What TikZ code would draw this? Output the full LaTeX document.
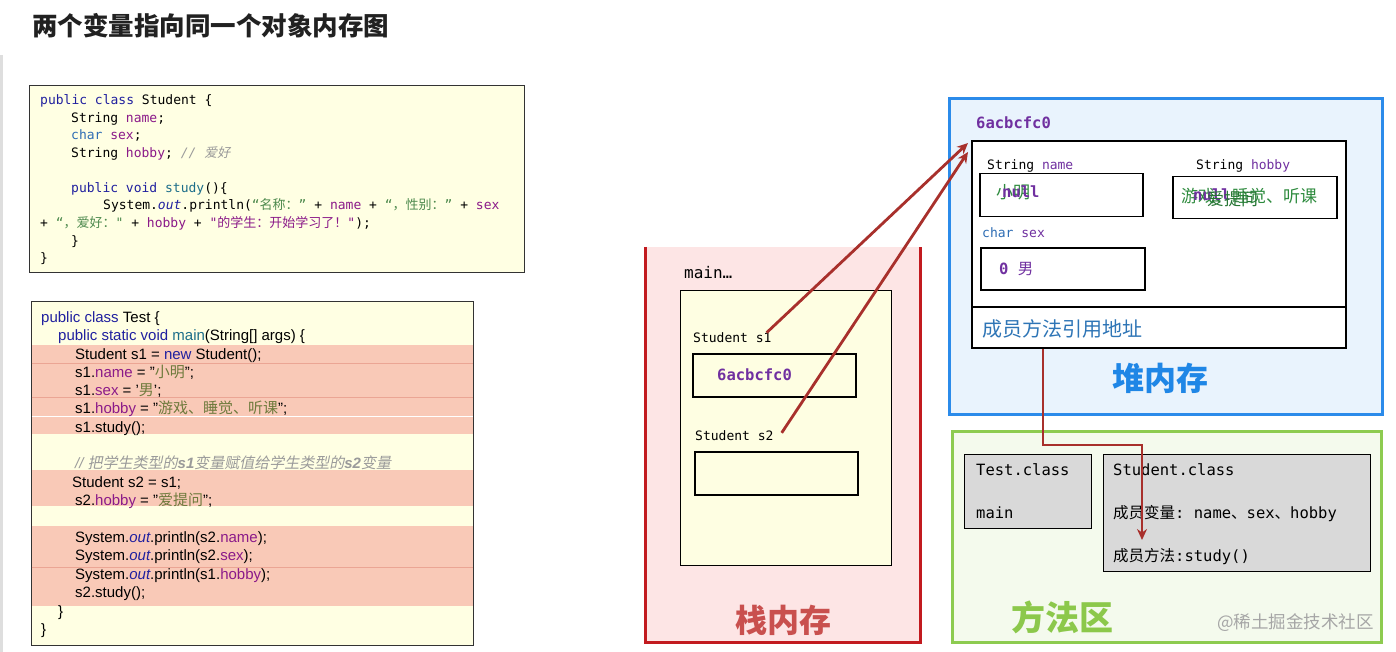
\documentclass[tikz,border=0pt]{standalone}
\usepackage{fontspec}
\setmainfont{Liberation Sans}
\setmonofont{DejaVu Sans Mono}
\newfontfamily\cjk{Noto Sans CJK SC}
\newfontfamily\cjkit[FakeSlant=0.2]{Noto Sans CJK SC}
\usetikzlibrary{arrows.meta}
\newcommand\zh[1]{{\cjk #1}}

\definecolor{codebg}{HTML}{FFFFE3}
\definecolor{bandred}{HTML}{F9C9B7}
\definecolor{bandline}{HTML}{EBA594}
\definecolor{kwblue}{HTML}{20209F}
\definecolor{typeblue}{HTML}{2E6DB4}
\definecolor{fieldpurple}{HTML}{8B1A89}
\definecolor{strgreen}{HTML}{4E8A4E}
\definecolor{cmtgray}{HTML}{9A9A9A}
\definecolor{methteal}{HTML}{1D6E8A}
\definecolor{olivestr}{HTML}{6E7A3C}
\definecolor{stackbg}{HTML}{FDE5E5}
\definecolor{stackred}{HTML}{C21A1F}
\definecolor{stacktitle}{HTML}{C9504E}
\definecolor{frameyellow}{HTML}{FEFEE2}
\definecolor{heapbg}{HTML}{E9F3FD}
\definecolor{heapblue}{HTML}{2B8BEA}
\definecolor{heaptitle}{HTML}{1F86E6}
\definecolor{refblue}{HTML}{2E75B6}
\definecolor{methbg}{HTML}{F4FAED}
\definecolor{methgreen}{HTML}{8DCB50}
\definecolor{methtitle}{HTML}{8CC84B}
\definecolor{classgray}{HTML}{D9D9D9}
\definecolor{valpurple}{HTML}{7030A0}
\definecolor{valgreen}{HTML}{2E8B3E}
\definecolor{arrowred}{HTML}{A8302C}

\begin{document}
\begin{tikzpicture}[x=1pt,y=-1pt,
  txt/.style={inner sep=0pt, anchor=base west},
  code/.style={txt, font=\ttfamily\fontsize{13}{15}\selectfont},
  java/.style={txt, font=\fontsize{15}{18}\selectfont},
  lbl/.style={txt, font=\ttfamily\fontsize{13}{15}\selectfont},
  addr/.style={txt, font=\ttfamily\bfseries\fontsize{15.5}{18}\selectfont, text=valpurple},
  cls/.style={txt, font=\ttfamily\fontsize{15.5}{18}\selectfont},
  box/.style={draw=black, line width=1.5pt, anchor=north west, inner sep=0pt},
  areatitle/.style={inner sep=0pt, anchor=base, font=\cjk\bfseries\fontsize{32}{36}\selectfont},
  ref/.style={draw=arrowred, line width=2.8pt, -{Stealth[length=11pt,width=10pt]}}]
\useasboundingbox (0,0) rectangle (1396,652);
\fill[white] (0,0) rectangle (1396,652);
\fill[black!13] (0,55) rectangle (3,652);

\node[txt, font=\cjk\bfseries\fontsize{25.5}{28}\selectfont, text=black!87] (title) at (32,35.7) {两个变量指向同一个对象内存图};

% Student source
\node[box, fill=codebg, draw=black!80, line width=1pt, minimum width=495pt, minimum height=187pt] (stucode) at (29,85) {};
\node[code] (sc1) at (40,105) {\textcolor{kwblue}{public class} Student \{};
\node[code] (sc2) at (71,122.5) {String \textcolor{fieldpurple}{name};};
\node[code] (sc3) at (71,140) {\textcolor{typeblue}{char} \textcolor{fieldpurple}{sex};};
\node[code] (sc4) at (71,157.5) {String \textcolor{fieldpurple}{hobby}; \textcolor{cmtgray}{\itshape // {\cjkit 爱好}}};
\node[code] (sc5) at (71,192.5) {\textcolor{kwblue}{public void} \textcolor{methteal}{study}()\{};
\node[code] (sc6) at (103,210) {System.\textcolor{kwblue}{\itshape out}.println(\textcolor{strgreen}{“\zh{名称：}”} + \textcolor{fieldpurple}{name} + \textcolor{strgreen}{“\zh{，性别：}”} + \textcolor{fieldpurple}{sex}};
\node[code] (sc7) at (40,227.5) {+ \textcolor{strgreen}{“\zh{，爱好：}"} + \textcolor{fieldpurple}{hobby} + \textcolor{fieldpurple}{"\zh{的学生：开始学习了！}"});};
\node[code] (sc8) at (71,245) {\}};
\node[code] (sc9) at (40,262.5) {\}};

% Test source
\node[box, fill=codebg, draw=black!80, line width=1pt, minimum width=442pt, minimum height=344pt] (testcode) at (31,301) {};
\fill[bandred] (31.5,345) rectangle (472.5,434);
\fill[bandred] (31.5,470) rectangle (472.5,506);
\fill[bandred] (31.5,526) rectangle (472.5,606);
\draw[bandline, line width=0.6pt] (31.5,363) -- (472.5,363) (31.5,397) -- (472.5,397) (31.5,567) -- (472.5,567);
\draw[white, line width=0.6pt] (31.5,416) -- (472.5,416);
\node[java] (tc1) at (41,322) {\textcolor{kwblue}{public class} Test \{};
\node[java] (tc2) at (58,340.5) {\textcolor{kwblue}{public static void} \textcolor{methteal}{main}(String[] args) \{};
\node[java] (tc3) at (75,359) {Student s1 = \textcolor{kwblue}{new} Student();};
\node[java] (tc4) at (75,377) {s1.\textcolor{fieldpurple}{name} = "\textcolor{olivestr}{\zh{小明}}";};
\node[java] (tc5) at (75,395) {s1.\textcolor{fieldpurple}{sex} = '\textcolor{olivestr}{\zh{男}}';};
\node[java] (tc6) at (75,413.5) {s1.\textcolor{fieldpurple}{hobby} = "\textcolor{olivestr}{\zh{游戏、睡觉、听课}}";};
\node[java] (tc7) at (75,432) {s1.study();};
\node[java, text=cmtgray] (tc8) at (75,468) {\itshape // {\cjkit 把学生类型的}\textbf{s1}{\cjkit 变量赋值给学生类型的}\textbf{s2}{\cjkit 变量}};
\node[java] (tc9) at (72,487) {Student s2 = s1;};
\node[java] (tc10) at (75,505) {s2.\textcolor{fieldpurple}{hobby} = "\textcolor{olivestr}{\zh{爱提问}}";};
\node[java] (tc11) at (75,542) {System.\textcolor{kwblue}{\itshape out}.println(s2.\textcolor{fieldpurple}{name});};
\node[java] (tc12) at (75,560.5) {System.\textcolor{kwblue}{\itshape out}.println(s2.\textcolor{fieldpurple}{sex});};
\node[java] (tc13) at (75,579) {System.\textcolor{kwblue}{\itshape out}.println(s1.\textcolor{fieldpurple}{hobby});};
\node[java] (tc14) at (75,597.5) {s2.study();};
\node[java] (tc15) at (58,616) {\}};
\node[java] (tc16) at (41,634) {\}};

% stack
\fill[stackbg] (645,247) rectangle (920,642);
\draw[stackred, line width=3pt] (645,247) -- (645,642) -- (920,642) -- (920,247);
\node[box, fill=frameyellow, line width=1pt, minimum width=211pt, minimum height=275pt] (mainframe) at (680,290) {};
\node[lbl, font=\ttfamily\fontsize{16}{18}\selectfont] (mainlbl) at (684,278) {main…};
\node[lbl] (s1lbl) at (693,342.7) {Student s1};
\node[box, minimum width=163pt, minimum height=43pt] (s1box) at (692,353) {};
\node[addr] (s1val) at (717,380.5) {6acbcfc0};
\node[lbl] (s2lbl) at (695,440.7) {Student s2};
\node[box, minimum width=163pt, minimum height=43pt] (s2box) at (694,451) {};
\node[areatitle, text=stacktitle] (stacktitle) at (783,632) {栈内存};

% heap
\node[box, draw=heapblue, line width=3pt, fill=heapbg, minimum width=433pt, minimum height=316pt] (heap) at (948,97) {};
\node[addr] (objaddr) at (976,128.5) {6acbcfc0};
\node[box, fill=white, line width=2pt, minimum width=374pt, minimum height=166pt] (obj) at (971,140) {};
\node[box, fill=white, line width=2pt, minimum width=374pt, minimum height=41pt] (mrow) at (971,306) {};
\node[lbl] (namelbl) at (987,169.5) {String \textcolor{valpurple}{name}};
\node[box, minimum width=163pt, minimum height=43pt] (namebox) at (979,173) {};
\node[txt, font=\cjk\fontsize{17}{20}\selectfont, text=valgreen] (nameval) at (996,198.5) {小明};
\node[addr] (namenull) at (1002,197.5) {null};
\node[lbl] (hobbylbl) at (1196,169.5) {String \textcolor{valpurple}{hobby}};
\node[box, minimum width=164pt, minimum height=42pt] (hobbybox) at (1172,176) {};
\node[txt, font=\cjk\fontsize{17}{20}\selectfont, text=valgreen] (hobbyval) at (1181,202.5) {游戏、睡觉、听课};
\node[addr] (hobbynull) at (1193,201) {null};
\node[txt, font=\cjk\fontsize{17}{20}\selectfont, text=valgreen!85!black] (hobbynew) at (1207,206) {爱提问};
\node[lbl] (sexlbl) at (982,237.5) {\textcolor{typeblue}{char} \textcolor{valpurple}{sex}};
\node[box, minimum width=164pt, minimum height=42pt] (sexbox) at (980,247) {};
\node[addr] (sexval) at (999,274) {0 {\cjk\mdseries 男}};
\node[txt, font=\cjk\fontsize{20}{22}\selectfont, text=refblue] (mlbl) at (982,336.6) {成员方法引用地址};
\node[areatitle, text=heaptitle] (heaptitle) at (1160,390) {堆内存};

% method area
\node[box, draw=methgreen, line width=3pt, fill=methbg, minimum width=429pt, minimum height=211pt] (method) at (951,430) {};
\node[box, fill=classgray, line width=1pt, minimum width=127pt, minimum height=74pt] (testcls) at (964,454) {};
\node[cls] (testname) at (976,475.5) {Test.class};
\node[cls] (testmain) at (976,518) {main};
\node[box, fill=classgray, line width=1pt, minimum width=267pt, minimum height=117pt] (stucls) at (1103,454) {};
\node[cls] (stuname) at (1113,475.5) {Student.class};
\node[cls] (stuvars) at (1113,518.5) {\zh{成员变量}: name\zh{、}sex\zh{、}hobby};
\node[cls] (stumeth) at (1113,561) {\zh{成员方法}:study()};
\node[areatitle, text=methtitle, font=\cjk\bfseries\fontsize{34}{38}\selectfont] (methtitle) at (1062,630) {方法区};
\node[txt, font=\cjk\fontsize{17.5}{20}\selectfont, text=black!35] (mark) at (1217,628) {@稀土掘金技术社区};

% references
\draw[ref] ([shift={(-5,0)}]s1lbl.north east) -- ([shift={(-3,3)}]obj.north west);
\draw[ref] ([shift={(8,-3)}]s2lbl.east) -- ([shift={(-3,12)}]obj.north west);
\draw[ref] ([xshift=72pt]mrow.south west) |- ++(99,96) -- ++(0,95);
\end{tikzpicture}
\end{document}
